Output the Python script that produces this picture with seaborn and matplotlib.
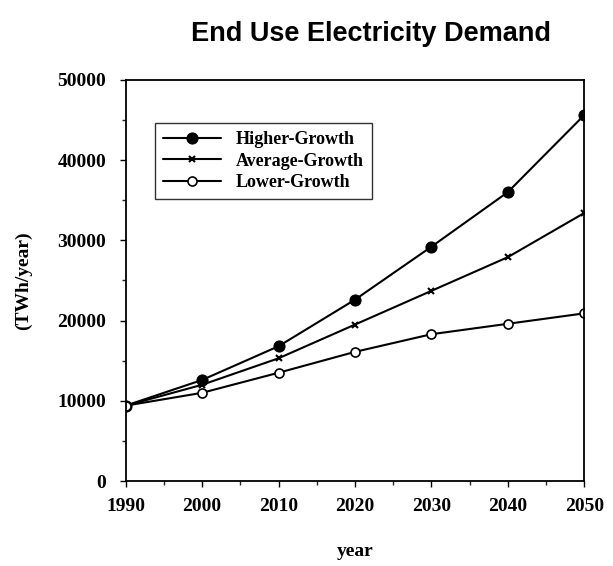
import numpy as np
import pandas as pd
import matplotlib.pyplot as plt
import seaborn as sns
from matplotlib.ticker import MultipleLocator

sns.set_style("white")
plt.rcParams['font.family'] = ['Liberation Serif', 'DejaVu Serif']
plt.rcParams['text.color'] = 'black'
plt.rcParams['axes.labelcolor'] = 'black'

years = [1990, 2000, 2010, 2020, 2030, 2040, 2050]
higher = [9400, 12600, 16800, 22600, 29200, 36000, 45600]
average = [9400, 12000, 15300, 19500, 23700, 27900, 33400]
lower = [9400, 11000, 13500, 16100, 18300, 19600, 20900]

fig = plt.figure(figsize=(6.13, 5.66), dpi=100)
ax = fig.add_axes([0.205, 0.150, 0.748, 0.709])

styles = [
    ("Higher-Growth", higher, dict(marker='o', markersize=8, mfc='black', mec='black')),
    ("Average-Growth", average, dict(marker='x', markersize=5, mew=1.5, mec='black')),
    ("Lower-Growth", lower, dict(marker='o', markersize=6.5, mfc='white', mec='black', mew=1.2)),
]
for name, vals, kw in styles:
    df = pd.DataFrame({"year": years, "demand": vals})
    sns.lineplot(data=df, x="year", y="demand", ax=ax, color='black', lw=1.5,
                 label=name, **kw)

ax.set_xlim(1990, 2050)
ax.set_ylim(0, 50000)
ax.set_xticks(years)
ax.yaxis.set_major_locator(MultipleLocator(10000))
ax.yaxis.set_minor_locator(MultipleLocator(5000))
ax.xaxis.set_minor_locator(MultipleLocator(5))
ax.tick_params(which='major', direction='out', length=4, width=1, colors='black',
               labelsize=14, bottom=True, left=True)
ax.tick_params(which='minor', direction='out', length=3, width=1, bottom=True, left=True)
for lab in ax.get_xticklabels() + ax.get_yticklabels():
    lab.set_fontweight('bold')
ax.tick_params(axis='x', pad=8)
ax.tick_params(axis='y', pad=10)
for s in ax.spines.values():
    s.set_color('black')
    s.set_linewidth(1.3)

ax.set_xlabel("year", fontsize=14, fontweight='bold')
ax.xaxis.set_label_coords(0.5, -0.155)
ax.set_ylabel("(TWh/year)", fontsize=14, fontweight='bold')
ax.yaxis.set_label_coords(-0.205, 0.5)

leg = ax.legend(loc='upper left', bbox_to_anchor=(0.045, 0.915), frameon=True,
                fancybox=False, prop={'weight': 'bold', 'size': 13},
                handlelength=3.2, borderpad=0.45, labelspacing=0.25)
leg.get_frame().set_edgecolor('black')
leg.get_frame().set_linewidth(1.0)

fig.text(0.605, 0.94, "End Use Electricity Demand", ha='center', va='center',
         fontsize=19.5, fontweight='bold', family=['Liberation Sans', 'DejaVu Sans'])

fig.savefig("out.png", dpi=100)
